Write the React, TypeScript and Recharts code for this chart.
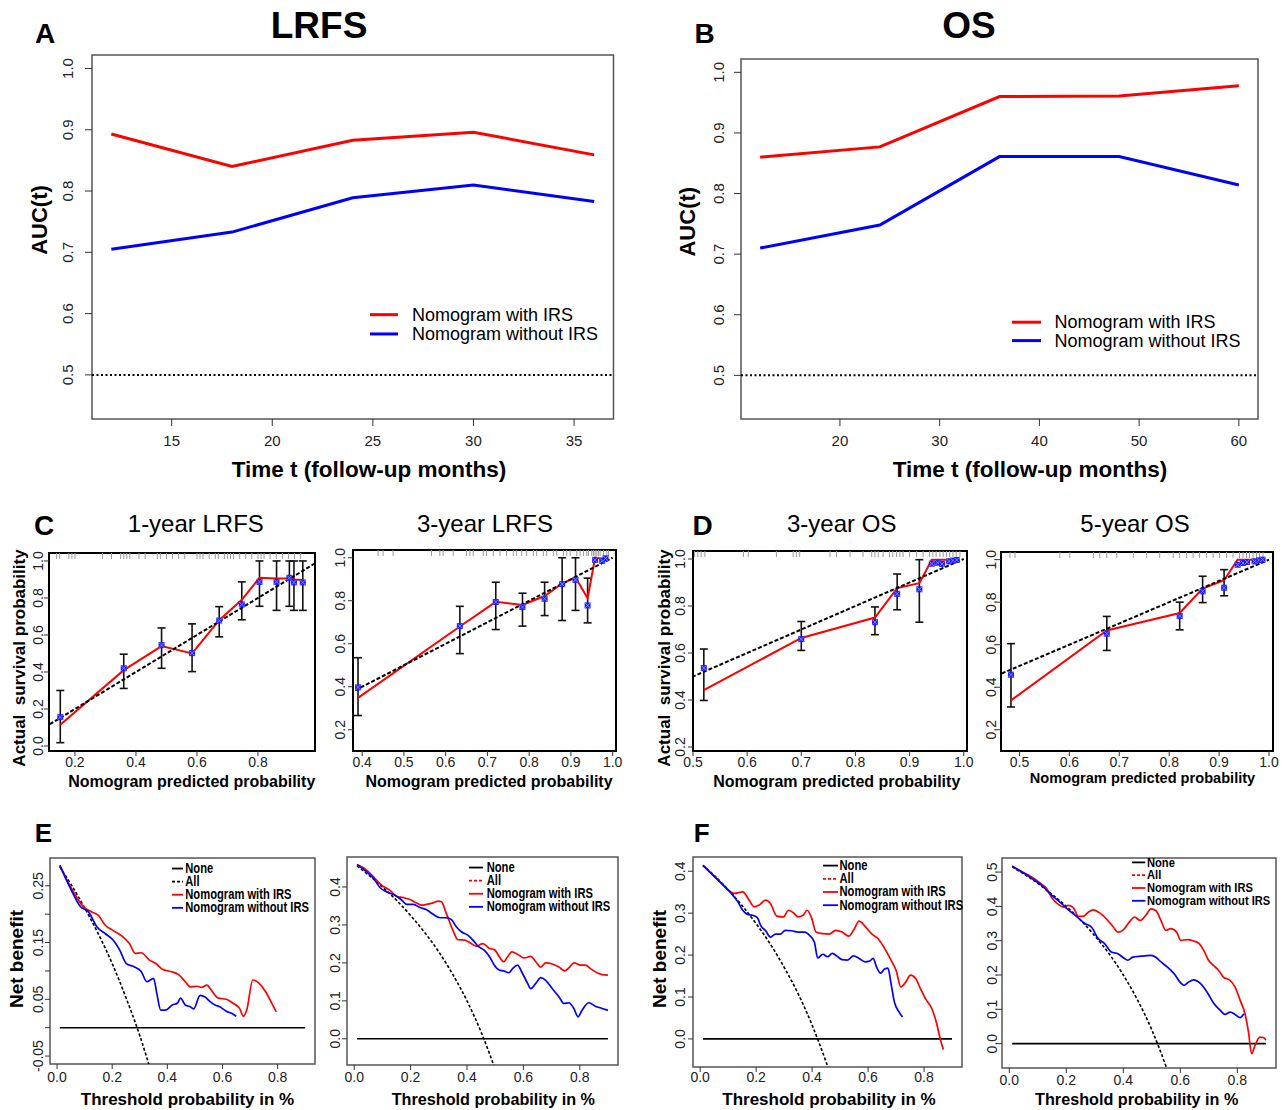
import React from 'react';
import { ComposedChart, Line, Scatter, XAxis, YAxis, ReferenceArea, ReferenceLine, ErrorBar, Legend } from 'recharts';

const FONT = '"Liberation Sans", Arial, Helvetica, sans-serif';
const RED = '#ff0000';
const BLUE = '#0000ff';

// ---------------- A / B : time-dependent AUC ----------------
const lrfsMonths = [12, 18, 24, 30, 36];
const lrfsAucWith = [0.893, 0.84, 0.883, 0.896, 0.859];
const lrfsAucWithout = [0.705, 0.733, 0.789, 0.81, 0.783];
const lrfsMonthTicks = [15, 20, 25, 30, 35];

const osMonths = [12, 24, 36, 48, 60];
const osAucWith = [0.86, 0.877, 0.96, 0.961, 0.978];
const osAucWithout = [0.71, 0.748, 0.861, 0.861, 0.814];
const osMonthTicks = [20, 30, 40, 50, 60];

const aucTicks = [0.5, 0.6, 0.7, 0.8, 0.9, 1.0];
const aucChance = 0.5;

// ---------------- C / D : calibration ----------------
const idealLine = [0, 1];

const c1Pred = [0.152, 0.36, 0.484, 0.584, 0.673, 0.747, 0.805, 0.861, 0.903, 0.918, 0.947];
const c1Obs = [0.156, 0.42, 0.545, 0.502, 0.678, 0.765, 0.887, 0.887, 0.909, 0.884, 0.884];
const c1Fit = [0.115, 0.41, 0.54, 0.5, 0.68, 0.79, 0.909, 0.905, 0.905, 0.9, 0.897];
const c1Lo = [0.018, 0.311, 0.42, 0.402, 0.59, 0.682, 0.755, 0.733, 0.755, 0.733, 0.733];
const c1Hi = [0.3, 0.496, 0.638, 0.66, 0.753, 0.887, 1.0, 1.0, 1.0, 1.0, 1.0];
const c1Rug = [0.14, 0.15, 0.18, 0.19, 0.2, 0.29, 0.32, 0.35, 0.36, 0.37, 0.38, 0.41, 0.43, 0.47, 0.48, 0.5, 0.52, 0.54, 0.56, 0.6, 0.61, 0.62, 0.64, 0.66, 0.67, 0.69, 0.7, 0.71, 0.72, 0.74, 0.76, 0.78, 0.8, 0.81, 0.82, 0.84, 0.86, 0.88, 0.9, 0.92, 0.94];
const c1XTicks = [0.2, 0.4, 0.6, 0.8];
const c1YTicks = [0, 0.2, 0.4, 0.6, 0.8, 1.0];

const c2Pred = [0.39, 0.634, 0.72, 0.784, 0.837, 0.879, 0.911, 0.94, 0.958, 0.975, 0.983];
const c2Obs = [0.397, 0.682, 0.794, 0.771, 0.809, 0.877, 0.897, 0.778, 0.99, 0.986, 0.997];
const c2Fit = [0.348, 0.68, 0.795, 0.78, 0.822, 0.88, 0.908, 0.812, 1.0, 0.995, 1.0];
const c2Lo = [0.266, 0.554, 0.666, 0.682, 0.731, 0.708, 0.755, 0.697, 0.99, 0.986, 0.997];
const c2Hi = [0.535, 0.774, 0.886, 0.835, 0.886, 1.0, 1.0, 0.905, 0.99, 0.986, 0.997];
const c2Rug = [0.438, 0.45, 0.474, 0.566, 0.586, 0.594, 0.618, 0.65, 0.658, 0.666, 0.69, 0.698, 0.714, 0.73, 0.746, 0.762, 0.77, 0.782, 0.794, 0.81, 0.818, 0.834, 0.842, 0.858, 0.866, 0.882, 0.89, 0.898, 0.914, 0.922, 0.93, 0.938, 0.942, 0.95, 0.954, 0.958, 0.962, 0.966, 0.97, 0.978, 0.986, 0.99];
const c2XTicks = [0.4, 0.5, 0.6, 0.7, 0.8, 0.9, 1.0];
const c2YTicks = [0.2, 0.4, 0.6, 0.8, 1.0];

const d1Pred = [0.52, 0.7, 0.836, 0.877, 0.918, 0.941, 0.952, 0.96, 0.973, 0.98, 0.987];
const d1Obs = [0.536, 0.659, 0.731, 0.852, 0.871, 0.98, 0.984, 0.979, 0.99, 0.993, 0.996];
const d1Fit = [0.442, 0.664, 0.751, 0.876, 0.897, 0.997, 0.997, 0.997, 0.997, 0.998, 0.999];
const d1Lo = [0.398, 0.611, 0.678, 0.784, 0.731, 0.98, 0.984, 0.979, 0.99, 0.993, 0.996];
const d1Hi = [0.617, 0.734, 0.796, 0.936, 0.997, 0.98, 0.984, 0.979, 0.99, 0.993, 0.996];
const d1Rug = [0.503, 0.509, 0.515, 0.522, 0.593, 0.602, 0.654, 0.685, 0.691, 0.697, 0.753, 0.765, 0.79, 0.814, 0.83, 0.836, 0.842, 0.851, 0.863, 0.869, 0.876, 0.882, 0.888, 0.9, 0.913, 0.925, 0.937, 0.943, 0.949, 0.956, 0.962, 0.968, 0.974, 0.98, 0.986, 0.993];
const dXTicks = [0.5, 0.6, 0.7, 0.8, 0.9, 1.0];
const dYTicks = [0.2, 0.4, 0.6, 0.8, 1.0];

const d2Pred = [0.483, 0.675, 0.821, 0.867, 0.91, 0.937, 0.948, 0.956, 0.971, 0.98, 0.987];
const d2Obs = [0.459, 0.652, 0.735, 0.851, 0.868, 0.976, 0.984, 0.989, 0.992, 0.997, 1.0];
const d2Fit = [0.338, 0.667, 0.749, 0.864, 0.903, 1.0, 1.0, 1.0, 1.0, 1.0, 1.0];
const d2Lo = [0.307, 0.573, 0.67, 0.798, 0.83, 0.976, 0.984, 0.989, 0.992, 0.997, 1.0];
const d2Hi = [0.605, 0.733, 0.8, 0.922, 0.953, 0.976, 0.984, 0.989, 0.992, 0.997, 1.0];
const d2Rug = [0.481, 0.491, 0.581, 0.601, 0.648, 0.661, 0.675, 0.695, 0.728, 0.755, 0.781, 0.808, 0.821, 0.835, 0.848, 0.861, 0.875, 0.888, 0.901, 0.915, 0.928, 0.941, 0.948, 0.955, 0.961, 0.968, 0.975, 0.981, 0.988];

// ---------------- E / F : decision curves ----------------
const noneX = [0.01, 0.9];
const noneY = [0, 0];
const dcaXTicks = [0, 0.2, 0.4, 0.6, 0.8];

const e1YTicks = [-0.05, 0, 0.05, 0.1, 0.15, 0.2, 0.25];
const e1YLabels = [-0.05, 0.05, 0.15, 0.25];
const e1AllX = [0.01, 0.05, 0.1, 0.15, 0.2, 0.25, 0.3, 0.325, 0.35];
const e1AllY = [0.283, 0.253, 0.211, 0.165, 0.113, 0.053, -0.014, -0.052, -0.092];
const e1RedX = [0.01, 0.049, 0.096, 0.126, 0.15, 0.174, 0.204, 0.239, 0.263, 0.283, 0.305, 0.335, 0.358, 0.382, 0.412, 0.442, 0.465, 0.483, 0.507, 0.525, 0.543, 0.564, 0.585, 0.614, 0.638, 0.662, 0.676, 0.688, 0.71, 0.733, 0.757, 0.779, 0.795];
const e1RedY = [0.286, 0.248, 0.213, 0.204, 0.198, 0.181, 0.171, 0.16, 0.148, 0.131, 0.132, 0.119, 0.113, 0.103, 0.099, 0.093, 0.081, 0.072, 0.073, 0.071, 0.075, 0.063, 0.052, 0.05, 0.043, 0.034, 0.02, 0.031, 0.084, 0.078, 0.063, 0.043, 0.028];
const e1BlueX = [0.01, 0.049, 0.085, 0.114, 0.144, 0.174, 0.204, 0.227, 0.251, 0.281, 0.305, 0.326, 0.35, 0.362, 0.376, 0.394, 0.418, 0.436, 0.448, 0.465, 0.483, 0.495, 0.519, 0.537, 0.555, 0.573, 0.59, 0.614, 0.638, 0.65];
const e1BlueY = [0.286, 0.245, 0.213, 0.204, 0.178, 0.166, 0.154, 0.137, 0.113, 0.107, 0.099, 0.081, 0.087, 0.06, 0.031, 0.031, 0.04, 0.043, 0.052, 0.04, 0.037, 0.033, 0.057, 0.054, 0.046, 0.04, 0.037, 0.029, 0.024, 0.02];

const e2YTicks = [0, 0.1, 0.2, 0.3, 0.4];
const e2AllX = [0.01, 0.05, 0.1, 0.15, 0.2, 0.25, 0.3, 0.35, 0.4, 0.45, 0.5];
const e2AllY = [0.455, 0.432, 0.4, 0.365, 0.325, 0.28, 0.229, 0.169, 0.1, 0.018, -0.08];
const e2RedX = [0.01, 0.045, 0.069, 0.098, 0.127, 0.151, 0.174, 0.198, 0.221, 0.239, 0.257, 0.28, 0.298, 0.309, 0.327, 0.35, 0.368, 0.392, 0.415, 0.433, 0.456, 0.48, 0.497, 0.515, 0.53, 0.544, 0.559, 0.579, 0.603, 0.626, 0.644, 0.662, 0.679, 0.703, 0.726, 0.747, 0.764, 0.779, 0.803, 0.82, 0.838, 0.861, 0.879, 0.9];
const e2RedY = [0.459, 0.444, 0.426, 0.404, 0.391, 0.375, 0.372, 0.367, 0.358, 0.352, 0.354, 0.358, 0.363, 0.361, 0.33, 0.286, 0.261, 0.26, 0.251, 0.244, 0.251, 0.238, 0.235, 0.216, 0.203, 0.216, 0.229, 0.223, 0.213, 0.217, 0.203, 0.189, 0.2, 0.197, 0.189, 0.179, 0.189, 0.2, 0.194, 0.194, 0.185, 0.174, 0.169, 0.168];
const e2BlueX = [0.01, 0.045, 0.069, 0.092, 0.116, 0.145, 0.169, 0.186, 0.21, 0.233, 0.257, 0.28, 0.304, 0.327, 0.345, 0.362, 0.38, 0.403, 0.421, 0.439, 0.462, 0.48, 0.497, 0.515, 0.53, 0.548, 0.562, 0.579, 0.597, 0.615, 0.626, 0.644, 0.662, 0.679, 0.703, 0.726, 0.744, 0.761, 0.779, 0.794, 0.808, 0.832, 0.855, 0.879, 0.9];
const e2BlueY = [0.459, 0.439, 0.422, 0.398, 0.387, 0.378, 0.365, 0.354, 0.354, 0.346, 0.34, 0.328, 0.319, 0.319, 0.314, 0.295, 0.282, 0.273, 0.26, 0.244, 0.233, 0.216, 0.194, 0.181, 0.179, 0.174, 0.185, 0.194, 0.172, 0.146, 0.132, 0.146, 0.161, 0.154, 0.132, 0.111, 0.093, 0.095, 0.08, 0.058, 0.075, 0.095, 0.086, 0.08, 0.075];

const f1YTicks = [0, 0.1, 0.2, 0.3, 0.4];
const f1AllX = [0.01, 0.05, 0.1, 0.15, 0.2, 0.25, 0.3, 0.35, 0.4, 0.45, 0.47];
const f1AllY = [0.414, 0.39, 0.356, 0.318, 0.275, 0.227, 0.171, 0.108, 0.033, -0.055, -0.094];
const f1RedX = [0.01, 0.041, 0.071, 0.1, 0.123, 0.152, 0.175, 0.193, 0.21, 0.234, 0.251, 0.274, 0.298, 0.315, 0.333, 0.35, 0.368, 0.382, 0.397, 0.414, 0.438, 0.461, 0.484, 0.507, 0.531, 0.548, 0.568, 0.589, 0.612, 0.636, 0.659, 0.682, 0.7, 0.717, 0.735, 0.752, 0.77, 0.787, 0.805, 0.828, 0.845, 0.859, 0.869];
const f1RedY = [0.414, 0.394, 0.375, 0.355, 0.347, 0.351, 0.331, 0.315, 0.319, 0.331, 0.323, 0.293, 0.291, 0.307, 0.301, 0.291, 0.295, 0.307, 0.291, 0.255, 0.251, 0.25, 0.259, 0.255, 0.245, 0.259, 0.281, 0.269, 0.251, 0.239, 0.216, 0.188, 0.164, 0.124, 0.136, 0.152, 0.144, 0.12, 0.096, 0.072, 0.037, -0.003, -0.025];
const f1BlueX = [0.01, 0.041, 0.076, 0.106, 0.135, 0.152, 0.17, 0.187, 0.205, 0.216, 0.234, 0.251, 0.269, 0.286, 0.304, 0.327, 0.35, 0.374, 0.391, 0.408, 0.42, 0.438, 0.455, 0.472, 0.49, 0.507, 0.525, 0.548, 0.568, 0.589, 0.606, 0.618, 0.63, 0.645, 0.659, 0.671, 0.682, 0.694, 0.711, 0.723];
const f1BlueY = [0.414, 0.394, 0.371, 0.351, 0.327, 0.307, 0.297, 0.295, 0.289, 0.271, 0.258, 0.243, 0.25, 0.25, 0.259, 0.258, 0.255, 0.255, 0.247, 0.231, 0.193, 0.202, 0.196, 0.204, 0.197, 0.189, 0.188, 0.198, 0.192, 0.184, 0.186, 0.192, 0.172, 0.157, 0.167, 0.169, 0.132, 0.088, 0.064, 0.052];

const f2YTicks = [0, 0.1, 0.2, 0.3, 0.4, 0.5];
const f2AllX = [0.01, 0.05, 0.1, 0.15, 0.2, 0.25, 0.3, 0.35, 0.4, 0.45, 0.5, 0.55, 0.57];
const f2AllY = [0.515, 0.495, 0.467, 0.435, 0.4, 0.36, 0.314, 0.262, 0.2, 0.127, 0.04, -0.067, -0.116];
const f2RedX = [0.01, 0.045, 0.08, 0.114, 0.132, 0.149, 0.172, 0.19, 0.207, 0.225, 0.242, 0.259, 0.277, 0.294, 0.317, 0.34, 0.363, 0.381, 0.398, 0.421, 0.439, 0.46, 0.479, 0.497, 0.514, 0.532, 0.549, 0.566, 0.587, 0.601, 0.624, 0.647, 0.664, 0.682, 0.699, 0.716, 0.734, 0.751, 0.775, 0.792, 0.81, 0.827, 0.839, 0.85, 0.862, 0.879, 0.893, 0.9];
const f2RedY = [0.517, 0.5, 0.485, 0.464, 0.451, 0.425, 0.406, 0.398, 0.403, 0.396, 0.371, 0.371, 0.383, 0.39, 0.381, 0.364, 0.342, 0.325, 0.33, 0.354, 0.369, 0.359, 0.374, 0.393, 0.388, 0.359, 0.33, 0.335, 0.325, 0.301, 0.303, 0.299, 0.293, 0.272, 0.243, 0.228, 0.214, 0.194, 0.184, 0.165, 0.126, 0.087, 0.034, -0.029, -0.005, 0.019, 0.017, 0.01];
const f2BlueX = [0.01, 0.045, 0.08, 0.114, 0.149, 0.184, 0.207, 0.236, 0.265, 0.288, 0.312, 0.335, 0.358, 0.381, 0.398, 0.416, 0.433, 0.462, 0.497, 0.514, 0.532, 0.555, 0.578, 0.601, 0.613, 0.63, 0.647, 0.671, 0.694, 0.717, 0.74, 0.757, 0.775, 0.792, 0.81, 0.823];
const f2BlueY = [0.517, 0.5, 0.481, 0.461, 0.432, 0.408, 0.39, 0.371, 0.35, 0.34, 0.306, 0.291, 0.267, 0.262, 0.252, 0.243, 0.252, 0.255, 0.257, 0.252, 0.238, 0.223, 0.204, 0.177, 0.17, 0.18, 0.186, 0.175, 0.15, 0.118, 0.097, 0.085, 0.092, 0.085, 0.076, 0.087];

// ---------------- helpers ----------------
const pts = (xs: number[], ys: number[]) => xs.map((x, i) => ({ x, y: ys[i] }));
const fix = (d: number) => (v: number) => Number(v).toFixed(d);

const Y_W = 60;
const X_H = 40;
const M = 4;
const PAD_R = 24;

function Panel(props: any) {
  const { box, xd, yd, xTicks, yTicks, xFmt, yFmt, tickLen, fs, ylabDx, xlabDy, frame, frameW, legend, children } = props;
  const left = box.l - Y_W - M;
  const top = box.t - M;
  const width = box.r - box.l + Y_W + 2 * M + PAD_R;
  const height = box.b - box.t + X_H + 2 * M;
  const xTick = (p: any) => (
    <text x={p.x} y={p.y + xlabDy} textAnchor="middle" dominantBaseline="central" fontSize={fs} fontFamily={FONT} fill="#222">
      {xFmt(p.payload.value)}
    </text>
  );
  const yTick = (p: any) => {
    const cx = p.x - ylabDx;
    return (
      <text x={cx} y={p.y} transform={`rotate(-90 ${cx} ${p.y})`} textAnchor="middle" dominantBaseline="central" fontSize={fs} fontFamily={FONT} fill="#222">
        {yFmt(p.payload.value)}
      </text>
    );
  };
  return (
    <div style={{ position: 'absolute', left, top, width, height }}>
      <ComposedChart width={width} height={height} margin={{ top: M, right: M + PAD_R, bottom: M, left: M }}>
        <XAxis type="number" dataKey="x" domain={xd} ticks={xTicks} allowDataOverflow interval={0} axisLine={false}
          tickLine={{ stroke: '#333', strokeWidth: 1 }} tickSize={tickLen} tickMargin={0} height={X_H} tick={xTick} />
        <YAxis type="number" domain={yd} ticks={yTicks} allowDataOverflow interval={0} axisLine={false}
          tickLine={{ stroke: '#333', strokeWidth: 1 }} tickSize={tickLen} tickMargin={0} width={Y_W} tick={yTick} />
        {children}
        <ReferenceArea x1={xd[0]} x2={xd[1]} y1={yd[0]} y2={yd[1]} fill="none" fillOpacity={0} stroke={frame} strokeWidth={frameW} />
        {legend ? legend(left, top) : null}
      </ComposedChart>
    </div>
  );
}

type LegItem = { label: string; color: string; dash?: string };

function legendAt(cfg: any) {
  return (cl: number, ct: number) => {
    const n = cfg.items.length;
    const w = cfg.w;
    const h = cfg.step * n + 6;
    const wl = cfg.x - cl;
    const wt = cfg.y - cfg.step / 2 - 3 - ct;
    return (
      <Legend
        layout="horizontal"
        verticalAlign="middle"
        align="center"
        wrapperStyle={{ left: wl, top: wt, width: w, height: h, margin: 0, padding: 0 }}
        content={() => (
          <svg width={w} height={h} style={{ display: 'block', overflow: 'visible' }}>
            {cfg.items.map((it: LegItem, i: number) => {
              const cy = cfg.step / 2 + 3 + i * cfg.step;
              return (
                <g key={it.label}>
                  <line x1={0} x2={cfg.lineLen} y1={cy} y2={cy} stroke={it.color} strokeWidth={cfg.lw} strokeDasharray={it.dash} />
                  <text transform={`translate(${cfg.lineLen + cfg.gap} ${cy}) scale(${cfg.sx} 1)`} dominantBaseline="central"
                    fontSize={cfg.fs} fontWeight={cfg.bold ? 'bold' : 'normal'} fontFamily={FONT} fill="#000">
                    {it.label}
                  </text>
                </g>
              );
            })}
          </svg>
        )}
      />
    );
  };
}

const aucItems: LegItem[] = [
  { label: 'Nomogram with IRS', color: RED },
  { label: 'Nomogram without IRS', color: BLUE },
];

function AucPanel(props: any) {
  const { box, xd, months, withIRS, withoutIRS, xTicks, ylabDx, legend } = props;
  return (
    <Panel box={box} xd={xd} yd={[0.428, 1.022]} xTicks={xTicks} yTicks={aucTicks} xFmt={(v: number) => String(v)} yFmt={fix(1)}
      tickLen={7} fs={15} ylabDx={ylabDx} xlabDy={14.5} frame="#555" frameW={1.5} legend={legend}>
      <ReferenceLine y={aucChance} stroke="#000" strokeWidth={2} strokeDasharray="2 2.5" />
      <Line data={pts(months, withIRS)} dataKey="y" name="Nomogram with IRS" type="linear" stroke={RED} strokeWidth={3} dot={false} activeDot={false} isAnimationActive={false} />
      <Line data={pts(months, withoutIRS)} dataKey="y" name="Nomogram without IRS" type="linear" stroke={BLUE} strokeWidth={3} dot={false} activeDot={false} isAnimationActive={false} />
    </Panel>
  );
}

const BlueMark = (p: any) => (
  <g>
    <rect x={p.cx - 3} y={p.cy - 3} width={6} height={6} fill="#1e1eff" />
    <path d={`M${p.cx - 2.5},${p.cy - 2.5}L${p.cx + 2.5},${p.cy + 2.5}M${p.cx + 2.5},${p.cy - 2.5}L${p.cx - 2.5},${p.cy + 2.5}`} stroke="#8080ff" strokeWidth={1} />
  </g>
);
const RugMark = (p: any) => <line x1={p.cx} x2={p.cx} y1={p.cy} y2={p.cy + 6} stroke="#9a9a9a" strokeWidth={1} />;
const NoMark = () => <g />;

function CalPanel(props: any) {
  const { box, xd, yd, xTicks, yTicks, pred, obs, fit, lo, hi, rug, ylabDx } = props;
  const errPts = pred
    .map((x: number, i: number) => ({ x, y: obs[i], err: [obs[i] - lo[i], hi[i] - obs[i]] }))
    .filter((p: any) => p.err[0] + p.err[1] > 0);
  const rugPts = rug.map((x: number) => ({ x, y: yd[1] }));
  return (
    <Panel box={box} xd={xd} yd={yd} xTicks={xTicks} yTicks={yTicks} xFmt={fix(1)} yFmt={fix(1)}
      tickLen={5} fs={14} ylabDx={ylabDx} xlabDy={5.5} frame="#000" frameW={2}>
      <Scatter data={rugPts} dataKey="y" name="rug" shape={RugMark} isAnimationActive={false} />
      <Scatter data={errPts} dataKey="y" name="ci" shape={NoMark} isAnimationActive={false}>
        <ErrorBar dataKey="err" direction="y" width={4} stroke="#111" strokeWidth={1.6} isAnimationActive={false} />
      </Scatter>
      <Line data={pts(pred, fit)} dataKey="y" name="calibrated" type="linear" stroke={RED} strokeWidth={2} dot={false} activeDot={false} isAnimationActive={false} />
      <ReferenceLine segment={[{ x: idealLine[0], y: idealLine[0] }, { x: idealLine[1], y: idealLine[1] }]} stroke="#000" strokeWidth={2} strokeDasharray="4 2" ifOverflow="hidden" />
      <Scatter data={pts(pred, obs)} dataKey="y" name="observed" shape={BlueMark} isAnimationActive={false} />
    </Panel>
  );
}

function DcaPanel(props: any) {
  const { box, yd, yTicks, yFmt, allX, allY, redX, redY, blueX, blueY, ylabDx, xlabDy, legend } = props;
  return (
    <Panel box={box} xd={[-0.0256, 0.9356]} yd={yd} xTicks={dcaXTicks} yTicks={yTicks} xFmt={fix(1)} yFmt={yFmt}
      tickLen={5} fs={14} ylabDx={ylabDx} xlabDy={xlabDy} frame="#555" frameW={1.5} legend={legend}>
      <Line data={pts(noneX, noneY)} dataKey="y" name="None" type="linear" stroke="#000" strokeWidth={1.6} dot={false} activeDot={false} isAnimationActive={false} />
      <Line data={pts(allX, allY)} dataKey="y" name="All" type="monotone" stroke="#000" strokeWidth={1.6} strokeDasharray="3 2" dot={false} activeDot={false} isAnimationActive={false} />
      <Line data={pts(redX, redY)} dataKey="y" name="Nomogram with IRS" type="monotone" stroke={RED} strokeWidth={1.7} dot={false} activeDot={false} isAnimationActive={false} />
      <Line data={pts(blueX, blueY)} dataKey="y" name="Nomogram without IRS" type="monotone" stroke={BLUE} strokeWidth={1.7} dot={false} activeDot={false} isAnimationActive={false} />
    </Panel>
  );
}

const dcaItems = (allColor: string): LegItem[] => [
  { label: 'None', color: '#000' },
  { label: 'All', color: allColor, dash: '3 2' },
  { label: 'Nomogram with IRS', color: RED },
  { label: 'Nomogram without IRS', color: BLUE },
];

function Txt(props: any) {
  const { x, y, size, bold, rot, sx = 1, children } = props;
  const tf = `translate(${x} ${y})${rot ? ' rotate(-90)' : ''}${sx !== 1 ? ` scale(${sx} 1)` : ''}`;
  return (
    <text transform={tf} textAnchor="middle" dominantBaseline="central" fontSize={size} fontWeight={bold ? 'bold' : 'normal'}
      fontFamily={FONT} fill="#000" style={{ whiteSpace: 'pre' }}>
      {children}
    </text>
  );
}

const e1YFmt = (v: number) => (e1YLabels.some((l) => Math.abs(l - v) < 1e-9) ? Number(v).toFixed(2) : '');

export default function App() {
  return (
    <div style={{ position: 'absolute', left: 0, top: 0, width: 1286, height: 1110, background: '#fff', overflow: 'hidden' }}>
      <AucPanel box={{ l: 91.5, t: 55, r: 613, b: 419 }} xd={[11.04, 36.96]} months={lrfsMonths} withIRS={lrfsAucWith}
        withoutIRS={lrfsAucWithout} xTicks={lrfsMonthTicks} ylabDx={17}
        legend={legendAt({ x: 370, y: 315, step: 19.3, lineLen: 28, gap: 14, fs: 18, bold: false, sx: 1, lw: 3, w: 260, items: aucItems })} />
      <AucPanel box={{ l: 741, t: 59, r: 1258, b: 419 }} xd={[10.08, 61.92]} months={osMonths} withIRS={osAucWith}
        withoutIRS={osAucWithout} xTicks={osMonthTicks} ylabDx={15.5}
        legend={legendAt({ x: 1012, y: 322.3, step: 18.4, lineLen: 29, gap: 13.5, fs: 18, bold: false, sx: 1, lw: 3, w: 260, items: aucItems })} />

      <CalPanel box={{ l: 49, t: 553, r: 315, b: 751 }} xd={[0.115, 0.987]} yd={[-0.027, 1.043]} xTicks={c1XTicks} yTicks={c1YTicks}
        pred={c1Pred} obs={c1Obs} fit={c1Fit} lo={c1Lo} hi={c1Hi} rug={c1Rug} ylabDx={6} />
      <CalPanel box={{ l: 353, t: 550, r: 616, b: 751 }} xd={[0.378, 1.008]} yd={[0.101, 1.036]} xTicks={c2XTicks} yTicks={c2YTicks}
        pred={c2Pred} obs={c2Obs} fit={c2Fit} lo={c2Lo} hi={c2Hi} rug={c2Rug} ylabDx={7.5} />
      <CalPanel box={{ l: 693, t: 551, r: 967, b: 751 }} xd={[0.5, 1.006]} yd={[0.183, 1.034]} xTicks={dXTicks} yTicks={dYTicks}
        pred={d1Pred} obs={d1Obs} fit={d1Fit} lo={d1Lo} hi={d1Hi} rug={d1Rug} ylabDx={7.5} />
      <CalPanel box={{ l: 1001, t: 552, r: 1273, b: 751 }} xd={[0.463, 1.008]} yd={[0.1, 1.036]} xTicks={dXTicks} yTicks={dYTicks}
        pred={d2Pred} obs={d2Obs} fit={d2Fit} lo={d2Lo} hi={d2Hi} rug={d2Rug} ylabDx={5} />

      <DcaPanel box={{ l: 50, t: 858, r: 315, b: 1064 }} yd={[-0.064, 0.299]} yTicks={e1YTicks} yFmt={e1YFmt}
        allX={e1AllX} allY={e1AllY} redX={e1RedX} redY={e1RedY} blueX={e1BlueX} blueY={e1BlueY} ylabDx={6.7} xlabDy={8}
        legend={legendAt({ x: 171.7, y: 868.3, step: 13.1, lineLen: 11, gap: 2.3, fs: 14, bold: true, sx: 0.8, lw: 1.8, w: 150, items: dcaItems('#000') })} />
      <DcaPanel box={{ l: 347, t: 857, r: 618, b: 1065 }} yd={[-0.069, 0.479]} yTicks={e2YTicks} yFmt={fix(1)}
        allX={e2AllX} allY={e2AllY} redX={e2RedX} redY={e2RedY} blueX={e2BlueX} blueY={e2BlueY} ylabDx={7} xlabDy={7}
        legend={legendAt({ x: 469, y: 867.3, step: 13.1, lineLen: 14, gap: 3.7, fs: 14, bold: true, sx: 0.8, lw: 1.8, w: 150, items: dcaItems(RED) })} />
      <DcaPanel box={{ l: 693, t: 857, r: 962, b: 1067 }} yd={[-0.067, 0.434]} yTicks={f1YTicks} yFmt={fix(1)}
        allX={f1AllX} allY={f1AllY} redX={f1RedX} redY={f1RedY} blueX={f1BlueX} blueY={f1BlueY} ylabDx={8} xlabDy={5}
        legend={legendAt({ x: 823.3, y: 866, step: 13.2, lineLen: 15, gap: 1.5, fs: 14, bold: true, sx: 0.8, lw: 1.8, w: 150, items: dcaItems(RED) })} />
      <DcaPanel box={{ l: 1002, t: 858, r: 1276, b: 1068 }} yd={[-0.071, 0.541]} yTicks={f2YTicks} yFmt={fix(1)}
        allX={f2AllX} allY={f2AllY} redX={f2RedX} redY={f2RedY} blueX={f2BlueX} blueY={f2BlueY} ylabDx={5.3} xlabDy={7}
        legend={legendAt({ x: 1131.7, y: 862.5, step: 12.8, lineLen: 13.3, gap: 1.7, fs: 12, bold: true, sx: 0.93, lw: 1.8, w: 150, items: dcaItems(RED) })} />

      <svg width={1286} height={1110} style={{ position: 'absolute', left: 0, top: 0, pointerEvents: 'none' }}>
        <Txt x={45} y={33.3} size={28} bold>A</Txt>
        <Txt x={319} y={25} size={37} bold>LRFS</Txt>
        <Txt x={704.5} y={33.3} size={28} bold>B</Txt>
        <Txt x={969} y={25.5} size={37} bold>OS</Txt>
        <Txt x={39} y={220} size={22} bold rot>AUC(t)</Txt>
        <Txt x={687.7} y={221.7} size={22} bold rot>AUC(t)</Txt>
        <Txt x={369} y={469} size={22.5} bold>Time t (follow-up months)</Txt>
        <Txt x={1030} y={469} size={22.5} bold>Time t (follow-up months)</Txt>

        <Txt x={44} y={525} size={28} bold>C</Txt>
        <Txt x={702.5} y={525} size={28} bold>D</Txt>
        <Txt x={195.8} y={523.5} size={24}>1-year LRFS</Txt>
        <Txt x={485} y={523} size={24}>3-year LRFS</Txt>
        <Txt x={841.7} y={523} size={24}>3-year OS</Txt>
        <Txt x={1135} y={523} size={24}>5-year OS</Txt>
        <Txt x={19.5} y={658} size={17} bold rot>{'Actual  survival probability'}</Txt>
        <Txt x={664} y={658} size={17} bold rot>{'Actual  survival probability'}</Txt>
        <Txt x={191.7} y={781} size={16} bold>Nomogram predicted probability</Txt>
        <Txt x={489} y={781.5} size={16} bold>Nomogram predicted probability</Txt>
        <Txt x={836.7} y={781.5} size={16} bold>Nomogram predicted probability</Txt>
        <Txt x={1142.5} y={778} size={14.6} bold>Nomogram predicted probability</Txt>

        <Txt x={43.3} y={833} size={26} bold>E</Txt>
        <Txt x={701.7} y={833} size={26} bold>F</Txt>
        <Txt x={16} y={959} size={19} bold rot>Net benefit</Txt>
        <Txt x={659} y={959} size={19} bold rot>Net benefit</Txt>
        <Txt x={187.5} y={1099} size={17} bold>Threshold probability in %</Txt>
        <Txt x={493.3} y={1099} size={16.2} bold>Threshold probability in %</Txt>
        <Txt x={829} y={1099} size={17} bold>Threshold probability in %</Txt>
        <Txt x={1136.7} y={1099} size={16.2} bold>Threshold probability in %</Txt>
      </svg>
    </div>
  );
}
